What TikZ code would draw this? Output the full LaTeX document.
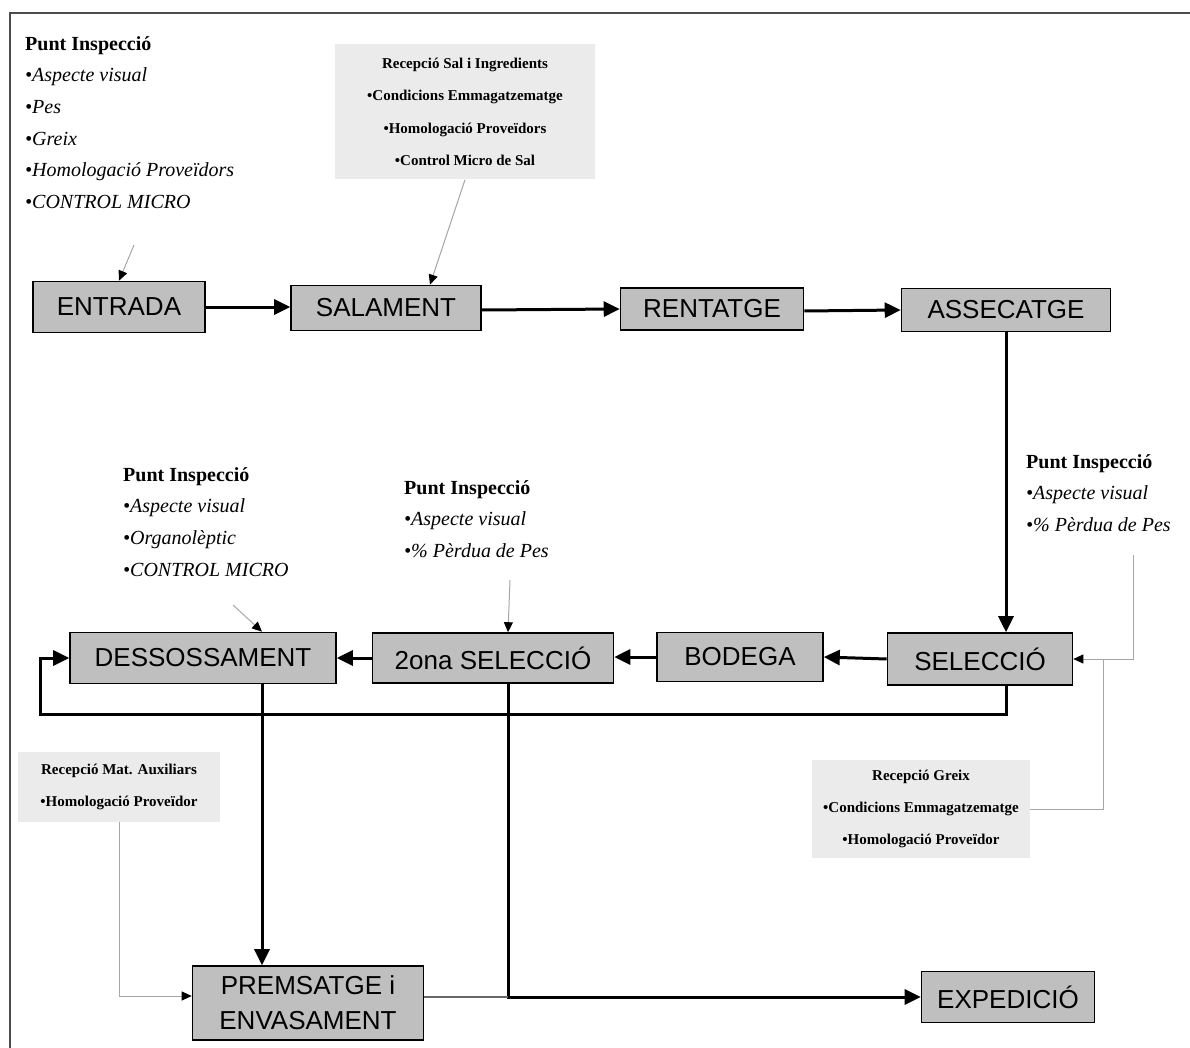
\documentclass[tikz,border=0pt]{standalone}
\usepackage{fontspec}
\setmainfont{Liberation Serif}
\newfontfamily\boxfont{Liberation Sans}
\usetikzlibrary{arrows.meta,positioning}

\begin{document}
\begin{tikzpicture}[x=1pt,y=-1pt,
    procbox/.style={draw=black,line width=1.6pt,fill=black!25,inner sep=0pt,
        font=\boxfont\fontsize{26}{35}\selectfont,align=center},
    notebox/.style={fill=black!8,inner sep=0pt,align=center,
        font=\bfseries\fontsize{15}{32.3}\selectfont},
    insptext/.style={anchor=north west,inner sep=0pt,align=left,
        font=\fontsize{20}{31.7}\selectfont},
    flow/.style={line width=3pt,-{Triangle[length=16pt,width=15pt]}},
    noteline/.style={draw=black!35,line width=1pt,
        -{Triangle[length=10pt,width=9pt,color=black]}}]
    \useasboundingbox (0,0) rectangle (1190,1048);

    % 边框
    \draw[black!70,line width=2.5pt] (10,1048) -- (10,13) -- (1190,13);

    % 工序方框
    \node[procbox,minimum width=172pt,minimum height=51pt] (entrada) at (119,307) {ENTRADA};
    \node[procbox,minimum width=190pt,minimum height=45pt] (salament) at (386,308) {SALAMENT};
    \node[procbox,minimum width=183pt,minimum height=42pt] (rentatge) at (712,309) {RENTATGE};
    \node[procbox,minimum width=209pt,minimum height=43pt] (assecatge) at (1006,310) {ASSECATGE};
    \node[procbox,minimum width=185pt,minimum height=52pt] (seleccio) at (980,659) {SELECCIÓ};
    \node[procbox,minimum width=166pt,minimum height=49pt] (bodega) at (740,657) {BODEGA};
    \node[procbox,minimum width=241pt,minimum height=50pt] (segona) at (493,658) {2ona SELECCIÓ};
    \node[procbox,minimum width=266pt,minimum height=51pt] (dessos) at (203,658) {DESSOSSAMENT};
    \node[procbox,minimum width=231pt,minimum height=74pt] (premsatge) at (308,1003) {PREMSATGE i\\ENVASAMENT};
    \node[procbox,minimum width=173pt,minimum height=51pt] (expedicio) at (1008,997) {EXPEDICIÓ};

    % 主流程箭头
    \draw[flow] (entrada.east) -- (entrada.east -| salament.west);
    \draw[flow] (salament.east) ++(0,2) -- (rentatge.west);
    \draw[flow] (rentatge.east) ++(0,2) -- (assecatge.west);
    \draw[flow] (assecatge.south) -- (assecatge.south |- seleccio.north);
    \draw[flow] (seleccio.west) -- (bodega.east);
    \draw[flow] (bodega.west) -- (bodega.west -| segona.east);
    \draw[flow] (segona.west) -- (segona.west -| dessos.east);
    \coordinate (lowleft) at (40,714);
    \draw[flow] (seleccio.south -| assecatge.south) |- (lowleft) |- (dessos.west);
    \draw[flow] ([xshift=59pt]dessos.south) -- ([xshift=-46pt]premsatge.north);
    \draw[flow] ([xshift=15pt]segona.south) |- (expedicio.west);
    \draw[black!60,line width=1.5pt] (premsatge.east |- expedicio.west) -- ([xshift=15pt]segona.south |- expedicio.west);

    % 检验点
    \node[insptext] (insp1) at (25,36) {\textbf{Punt Inspecció}\\\textit{•Aspecte visual}\\\textit{•Pes}\\\textit{•Greix}\\\textit{•Homologació Proveïdors}\\\textit{•CONTROL MICRO}};
    \node[insptext] (insp2) at (123,467) {\textbf{Punt Inspecció}\\\textit{•Aspecte visual}\\\textit{•Organolèptic}\\\textit{•CONTROL MICRO}};
    \node[insptext] (insp3) at (404,480) {\textbf{Punt Inspecció}\\\textit{•Aspecte visual}\\\textit{•\% Pèrdua de Pes}};
    \node[insptext] (insp4) at (1026,454) {\textbf{Punt Inspecció}\\\textit{•Aspecte visual}\\\textit{•\% Pèrdua de Pes}};

    % 接收说明
    \node[notebox,minimum width=260pt,minimum height=135pt] (salnote) at (465,112)
        {Recepció Sal i Ingredients\\•Condicions Emmagatzematge\\•Homologació Proveïdors\\•Control Micro de Sal};
    \node[notebox,minimum width=202pt,minimum height=70pt] (mataux) at (119,787)
        {Recepció Mat. Auxiliars\\•Homologació Proveïdor};
    \node[notebox,minimum width=218pt,minimum height=98pt] (greix) at (921,809)
        {Recepció Greix\\•Condicions Emmagatzematge\\•Homologació Proveïdor};

    % 细线箭头
    \coordinate (n1) at (134,245);
    \coordinate (n2) at (233,605);
    \coordinate (n3) at (510,580);
    \coordinate (n4) at (1133,555);
    \coordinate (greixjoin) at (1103,659);
    \draw[noteline] (n1) -- (entrada.north);
    \draw[noteline] (salnote.south) -- ([xshift=44pt]salament.north);
    \draw[noteline] (n2) -- ([xshift=59pt]dessos.north);
    \draw[noteline] (n3) -- ([xshift=15pt]segona.north);
    \draw[noteline] (n4) |- (seleccio.east);
    \draw[noteline,-] (greix.east) -| (greixjoin);
    \draw[noteline] (mataux.south) |- ([yshift=7pt]premsatge.west);
\end{tikzpicture}
\end{document}
